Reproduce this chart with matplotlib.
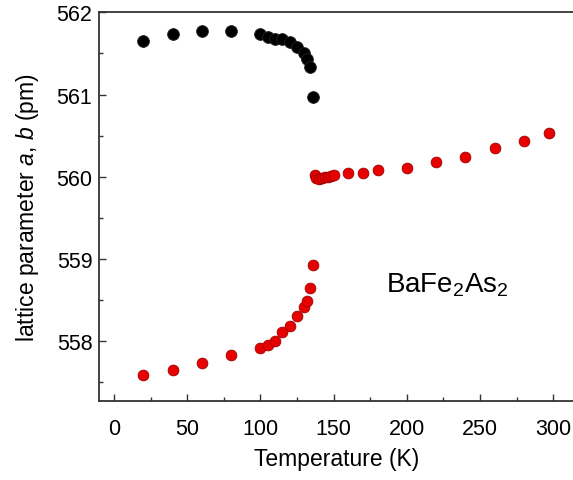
import numpy as np
import matplotlib
matplotlib.use("Agg")
import matplotlib.pyplot as plt
from matplotlib.ticker import MultipleLocator

plt.rcParams["font.family"] = ["Liberation Sans", "DejaVu Sans"]
plt.rcParams["mathtext.fontset"] = "custom"
plt.rcParams["mathtext.rm"] = "Liberation Sans"
plt.rcParams["mathtext.it"] = "Liberation Sans:italic"
plt.rcParams["mathtext.default"] = "regular"

# orthorhombic a (black)
T_a = [20, 40, 60, 80, 100, 105, 110, 115, 120, 125, 130, 132, 134, 136]
a_pm = [561.65, 561.74, 561.77, 561.77, 561.74, 561.70, 561.68, 561.68,
        561.64, 561.58, 561.51, 561.43, 561.33, 560.97]

# orthorhombic b (red, low-T branch)
T_b = [20, 40, 60, 80, 100, 105, 110, 115, 120, 125, 130, 132, 134, 136]
b_pm = [557.59, 557.65, 557.73, 557.83, 557.91, 557.95, 558.00, 558.11,
        558.18, 558.30, 558.42, 558.49, 558.64, 558.93]

# tetragonal a (red, high-T branch)
T_t = [137, 138, 140, 142, 144, 146, 148, 150, 160, 170, 180, 200, 220,
       240, 260, 280, 297]
t_pm = [560.02, 559.98, 559.97, 559.98, 559.99, 560.00, 560.01, 560.02,
        560.045, 560.05, 560.08, 560.11, 560.18, 560.24, 560.35, 560.43, 560.53]

fig = plt.figure(figsize=(5.73, 4.81), dpi=100)
ax = fig.add_axes([0.1733, 0.1642, 0.8267, 0.8081])

ax.scatter(T_a, a_pm, s=72, color="black", edgecolor="#222222", linewidth=0.6, zorder=3)
ax.scatter(T_b, b_pm, s=60, color="#e60000", edgecolor="#a00000", linewidth=0.6, zorder=3)
ax.scatter(T_t, t_pm, s=60, color="#e60000", edgecolor="#a00000", linewidth=0.6, zorder=3)

ax.set_xlim(-10, 313.5)
ax.set_ylim(557.27, 562.0)
ax.xaxis.set_major_locator(MultipleLocator(50))
ax.xaxis.set_minor_locator(MultipleLocator(25))
ax.yaxis.set_major_locator(MultipleLocator(1))
ax.yaxis.set_minor_locator(MultipleLocator(0.5))
ax.yaxis.set_major_formatter(plt.FuncFormatter(lambda v, p: f"{v:.0f}"))

ax.spines["right"].set_visible(False)
for s in ["left", "top", "bottom"]:
    ax.spines[s].set_color("#333333")
    ax.spines[s].set_linewidth(1.3)

ax.tick_params(which="both", direction="in", color="#333333", width=1.0)
ax.tick_params(which="major", length=5)
ax.tick_params(which="minor", length=3)
ax.tick_params(axis="x", which="both", top=False, pad=12, labelsize=15.5)
ax.tick_params(axis="y", which="both", pad=5, labelsize=15.5)

ax.set_xlabel("Temperature (K)", fontsize=16.5, labelpad=6)
ax.set_ylabel("lattice parameter $\\mathit{a}$, $\\mathit{b}$ (pm)", fontsize=16.5, labelpad=11)

ax.text(386, 481 - 285, r"BaFe$_2$As$_2$", transform=None, fontsize=20, va="center", ha="left")

fig.savefig("out.png", dpi=100)
